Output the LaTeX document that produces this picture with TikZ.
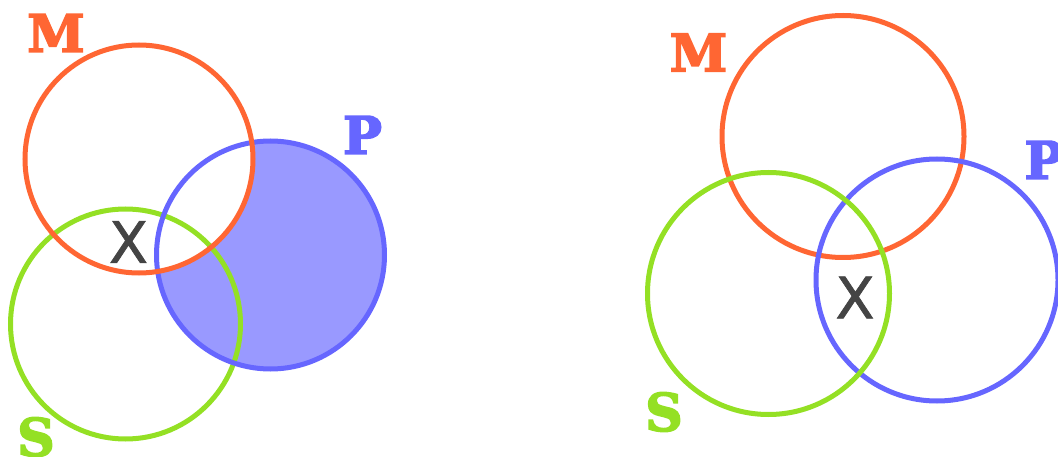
\documentclass[tikz,border=0pt]{standalone}
\usepackage{fontspec}
\newfontfamily\labfont{DejaVu Serif}[BoldFeatures={FakeBold=3}]
\newfontfamily\xfont{DejaVu Sans}[FakeBold=1.2]
\definecolor{cM}{HTML}{FF6633}
\definecolor{cP}{HTML}{6666FF}
\definecolor{cPfill}{HTML}{9999FF}
\definecolor{cS}{HTML}{94E024}
\definecolor{xgray}{HTML}{444444}
\begin{document}
\begin{tikzpicture}[x=1pt,y=-1pt,
  ring/.style={line width=5pt},
  setlabel/.style={font=\labfont\bfseries\fontsize{52}{52}\selectfont, inner sep=0pt},
  xmark/.style={font=\xfont\fontsize{57}{57}\selectfont, text=xgray, inner sep=0pt}]
\useasboundingbox (0,0) rectangle (1058,457);
% centres
\coordinate (LM) at (139,159);
\coordinate (LP) at (270.5,255);
\coordinate (LS) at (125.5,324);
\coordinate (RM) at (843,136.5);
\coordinate (RS) at (768.5,293.5);
\coordinate (RP) at (937,280);
% left shading: P minus M
\begin{scope}
  \clip (LP) circle (114);
  \fill[cPfill, even odd rule] (LP) circle (114) (LM) circle (114);
\end{scope}
% left circles
\draw[ring, cS] (LS) circle (115);
\draw[ring, cP] (LP) circle (114);
\draw[ring, cM] (LM) circle (114);
% right circles
\draw[ring, cM] (RM) circle (121);
\draw[ring, cP] (RP) circle (121);
\draw[ring, cS] (RS) circle (121);
% labels
\node[setlabel, text=cM] (lmlab) at (56,33) {M};
\node[setlabel, text=cP] (lplab) at (362.5,135) {P};
\node[setlabel, text=cS] (lslab) at (36,437) {S};
\node[setlabel, text=cM] (rmlab) at (698.5,52.5) {M};
\node[setlabel, text=cP] (rplab) at (1044,160) {P};
\node[setlabel, text=cS] (rslab) at (664,412) {S};
% crosses
\node[xmark] (lx) at (128.5,242) {X};
\node[xmark] (rx) at (855,297.5) {X};
\end{tikzpicture}
\end{document}
